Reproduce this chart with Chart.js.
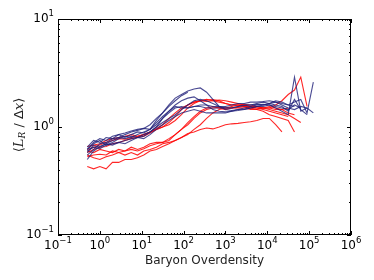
<!DOCTYPE html>
<html>
<head>
<meta charset="utf-8">
<script src="https://cdn.jsdelivr.net/npm/chart.js@4/dist/chart.umd.min.js"></script>
<style>
  html, body { margin: 0; padding: 0; background: #fff; }
</style>
</head>
<body>
<canvas id="chart" width="374" height="280"></canvas>
<script>
// baryon overdensity grid shared by all runs
const overdensity = [0.5, 0.71, 1, 1.41, 2, 2.82, 3.98, 5.62, 7.94, 11.2, 15.8, 22.4, 31.6, 44.7, 63.1, 89.1,
    126, 178, 251, 355, 501, 708, 1000, 1413, 1995, 2818, 3981, 5623, 7943, 11220, 15849, 22387, 31623,
    44668, 63096, 89125, 125893];

// <L_R / dx> for the blue runs
const blueRuns = [
    [0.55, 0.62, 0.70, 0.72, 0.78, 0.80, 0.85, 0.90, 0.93, 0.97, 1.05, 1.20, 1.35, 1.60, 1.85, 2.00, 2.15, 2.25, 2.30, 2.10, 1.80, 1.55, 1.45, 1.42, 1.45, 1.50, 1.55, 1.60, 1.62, 1.60, 1.55, 1.50, 1.45, 1.60, 1.50],
    [0.62, 0.70, 0.75, 0.68, 0.72, 0.78, 0.82, 0.80, 0.85, 0.90, 0.95, 1.15, 1.35, 1.55, 1.75, 1.95, 2.10],
    [0.50, 0.60, 0.66, 0.70, 0.68, 0.72, 0.75, 0.78, 0.80, 0.82, 0.90, 1.00, 1.10, 1.20, 1.30, 1.45, 1.60, 1.75, 1.80, 1.75, 1.65, 1.55, 1.50, 1.50, 1.55, 1.58, 1.60, 1.62, 1.60, 1.65, 1.70, 1.60, 1.50, 1.45, 1.55, 1.50, 1.35],
    [0.60, 0.65, 0.63, 0.68, 0.70, 0.72, 0.70, 0.75, 0.80, 0.78, 0.85, 0.95, 1.05, 1.15, 1.25, 1.35, 1.40, 1.45, 1.40, 1.35, 1.35, 1.35, 1.35, 1.40, 1.45, 1.45, 1.50, 1.55, 1.55, 1.60, 1.50, 1.40, 1.30, 2.90, 1.40, 1.50],
    [0.65, 0.75, 0.72, 0.80, 0.78, 0.85, 0.88, 0.92, 0.95, 0.97, 0.95, 1.05, 1.20, 1.40, 1.55, 1.50, 1.50, 1.55, 1.55, 1.50, 1.50, 1.50, 1.50, 1.50, 1.55, 1.60, 1.60, 1.65, 1.70, 1.65, 1.75, 1.70, 1.60, 1.70, 1.80, 1.35, 2.60],
    [0.58, 0.68, 0.65, 0.70, 0.75, 0.80, 0.78, 0.82, 0.80, 0.85, 0.90, 1.00, 1.20, 1.35, 1.50, 1.55, 1.50, 1.55, 1.60, 1.60, 1.55, 1.55, 1.55, 1.60, 1.65, 1.65, 1.70, 1.70, 1.72, 1.75, 1.70, 1.65, 1.60, 1.55],
    [0.62, 0.72, 0.78, 0.75, 0.82, 0.85, 0.80, 0.85, 0.90, 0.88, 0.95, 1.10, 1.25, 1.40, 1.60, 1.75, 1.85, 1.90, 1.75, 1.60, 1.45, 1.40, 1.38, 1.40, 1.42, 1.45, 1.50, 1.55, 1.60, 1.65, 1.60, 1.55, 1.40, 1.80, 1.45, 1.30]
];

// <L_R / dx> for the red runs
const redRuns = [
    [0.43, 0.41, 0.43, 0.41, 0.47, 0.47, 0.50, 0.50, 0.52, 0.55, 0.60, 0.62, 0.66, 0.70, 0.75, 0.80, 0.87, 0.90, 0.95, 0.98, 0.96, 1.00, 1.05, 1.07, 1.08, 1.10, 1.12, 1.15, 1.20, 1.20, 1.05, 0.90],
    [0.53, 0.55, 0.56, 0.55, 0.60, 0.58, 0.60, 0.62, 0.60, 0.63, 0.67, 0.70, 0.72, 0.75, 0.85, 0.95, 1.05, 1.20, 1.35, 1.45, 1.50, 1.52, 1.50, 1.50, 1.52, 1.55, 1.50, 1.45, 1.40, 1.30, 1.25, 1.20, 1.15, 0.90],
    [0.60, 0.58, 0.62, 0.60, 0.58, 0.62, 0.60, 0.65, 0.62, 0.65, 0.70, 0.72, 0.72, 0.78, 0.85, 0.95, 1.10, 1.25, 1.40, 1.50, 1.55, 1.50, 1.45, 1.50, 1.50, 1.50, 1.45, 1.45, 1.50, 1.50, 1.60, 1.75, 2.00, 2.20, 2.90, 1.55],
    [0.58, 0.62, 0.65, 0.66, 0.70, 0.72, 0.75, 0.78, 0.80, 0.82, 0.88, 0.95, 1.00, 1.10, 1.25, 1.45, 1.60, 1.70, 1.75, 1.72, 1.75, 1.78, 1.75, 1.70, 1.65, 1.60, 1.55, 1.55, 1.50, 1.50, 1.45, 1.45, 1.50],
    [0.62, 0.65, 0.68, 0.72, 0.75, 0.78, 0.77, 0.80, 0.82, 0.85, 0.90, 0.95, 1.00, 1.05, 1.15, 1.30, 1.50, 1.65, 1.75, 1.80, 1.75, 1.70, 1.65, 1.60, 1.60, 1.55, 1.55, 1.50, 1.50, 1.55, 1.50, 1.45, 1.35, 1.30],
    [0.55, 0.52, 0.50, 0.53, 0.55, 0.58, 0.55, 0.58, 0.55, 0.60, 0.62, 0.65, 0.70, 0.72, 0.75, 0.80, 0.85, 0.95, 1.05, 1.20, 1.35, 1.45, 1.50, 1.55, 1.60, 1.55, 1.50, 1.50, 1.45, 1.40, 1.35, 1.30, 1.25],
    [0.66, 0.68, 0.70, 0.75, 0.78, 0.80, 0.82, 0.85, 0.82, 0.85, 0.90, 0.97, 1.05, 1.20, 1.35, 1.50, 1.60, 1.70, 1.75, 1.78, 1.80, 1.75, 1.65, 1.60, 1.60, 1.62, 1.60, 1.55, 1.50, 1.45, 1.40, 1.35, 1.30, 1.20, 1.10]
];

// decade ticks on both axes
const xDecades = [-1, 0, 1, 2, 3, 4, 5, 6];
const yDecades = [-1, 0, 1];

const FONT = '"DejaVu Sans", sans-serif';
const BLUE = 'rgba(30, 30, 120, 0.8)';
const RED = 'rgba(255, 0, 0, 0.85)';

function makeDataset(values, color) {
    return {
        data: values.map((v, i) => ({ x: overdensity[i], y: v })),
        borderColor: color,
        borderWidth: 1.1,
        pointRadius: 0,
        fill: false,
        tension: 0,
        showLine: true
    };
}

// blue drawn first, red on top
const datasets = blueRuns.map(r => makeDataset(r, BLUE))
    .concat(redRuns.map(r => makeDataset(r, RED)));

// decade + minor tick values for a log axis
function logTicks(decades) {
    const out = [];
    decades.forEach((d, i) => {
        out.push({ value: Math.pow(10, d), major: true });
        if (i < decades.length - 1) {
            for (let k = 2; k <= 9; k++) out.push({ value: k * Math.pow(10, d), major: false });
        }
    });
    return out;
}

function drawPower(ctx, exp, x, y, align) {
    const base = '10';
    const sup = exp < 0 ? '\u2212' + Math.abs(exp) : String(exp);
    ctx.font = '12px ' + FONT;
    const wb = ctx.measureText(base).width;
    ctx.font = '8.5px ' + FONT;
    const ws = ctx.measureText(sup).width;
    const total = wb + ws;
    let left = align === 'right' ? x - total : x - total / 2;
    ctx.fillStyle = '#000';
    ctx.textAlign = 'left';
    ctx.textBaseline = 'middle';
    ctx.font = '12px ' + FONT;
    ctx.fillText(base, left, y);
    ctx.font = '8.5px ' + FONT;
    ctx.fillText(sup, left + wb, y - 5);
}

const framePlugin = {
    id: 'frame',
    afterDraw(chart) {
        const ctx = chart.ctx;
        const a = chart.chartArea;
        const xs = chart.scales.x;
        const ys = chart.scales.y;
        ctx.save();
        ctx.strokeStyle = '#000';
        ctx.lineWidth = 1;
        ctx.strokeRect(a.left + 0.5, a.top + 0.5, a.right - a.left - 1, a.bottom - a.top - 1);

        // inward ticks on all four sides
        ctx.beginPath();
        xs.ticks.forEach(t => {
            const px = Math.round(xs.getPixelForValue(t.value)) + 0.5;
            const len = t.major ? 4 : 2;
            ctx.moveTo(px, a.bottom); ctx.lineTo(px, a.bottom - len);
            ctx.moveTo(px, a.top); ctx.lineTo(px, a.top + len);
        });
        ys.ticks.forEach(t => {
            const py = Math.round(ys.getPixelForValue(t.value)) + 0.5;
            const len = t.major ? 4 : 2;
            ctx.moveTo(a.left, py); ctx.lineTo(a.left + len, py);
            ctx.moveTo(a.right, py); ctx.lineTo(a.right - len, py);
        });
        ctx.stroke();

        // tick labels
        xDecades.forEach(d => {
            drawPower(ctx, d, xs.getPixelForValue(Math.pow(10, d)), a.bottom + 11, 'center');
        });
        yDecades.forEach(d => {
            drawPower(ctx, d, a.left - 4, ys.getPixelForValue(Math.pow(10, d)), 'right');
        });

        // y axis label <L_R / dx>
        ctx.translate(20, (a.top + a.bottom) / 2 - 2);
        ctx.rotate(-Math.PI / 2);
        const parts = [
            ['\u27E8', '13px ' + FONT, 0],
            ['L', 'italic 13px "DejaVu Serif", serif', 0],
            ['R', 'italic 9px "DejaVu Serif", serif', 3],
            [' / \u0394', '13px ' + FONT, 0],
            ['x', 'italic 13px "DejaVu Serif", serif', 0],
            ['\u27E9', '13px ' + FONT, 0]
        ];
        let w = 0;
        parts.forEach(p => { ctx.font = p[1]; w += ctx.measureText(p[0]).width; });
        let cx = -w / 2;
        ctx.textAlign = 'left';
        ctx.textBaseline = 'middle';
        ctx.fillStyle = '#222';
        parts.forEach(p => {
            ctx.font = p[1];
            ctx.fillText(p[0], cx, p[2]);
            cx += ctx.measureText(p[0]).width;
        });
        ctx.restore();
    }
};

new Chart(document.getElementById('chart'), {
    type: 'scatter',
    data: { datasets: datasets },
    plugins: [framePlugin],
    options: {
        responsive: false,
        animation: false,
        layout: { padding: { left: 0, top: 19, right: 23, bottom: 0 } },
        plugins: { legend: { display: false }, tooltip: { enabled: false } },
        scales: {
            x: {
                type: 'logarithmic',
                min: 0.1,
                max: 1e6,
                afterBuildTicks: s => { s.ticks = logTicks(xDecades); },
                afterFit: s => { s.height = 45; },
                ticks: { display: false },
                grid: { display: false },
                border: { display: false },
                title: {
                    display: true,
                    text: 'Baryon Overdensity',
                    color: '#222',
                    font: { family: FONT, size: 12 },
                    padding: { top: 0, bottom: 12 }
                }
            },
            y: {
                type: 'logarithmic',
                min: 0.1,
                max: 10,
                afterBuildTicks: s => { s.ticks = logTicks(yDecades); },
                afterFit: s => { s.width = 58; },
                ticks: { display: false },
                grid: { display: false },
                border: { display: false }
            }
        }
    }
});
</script>
</body>
</html>
